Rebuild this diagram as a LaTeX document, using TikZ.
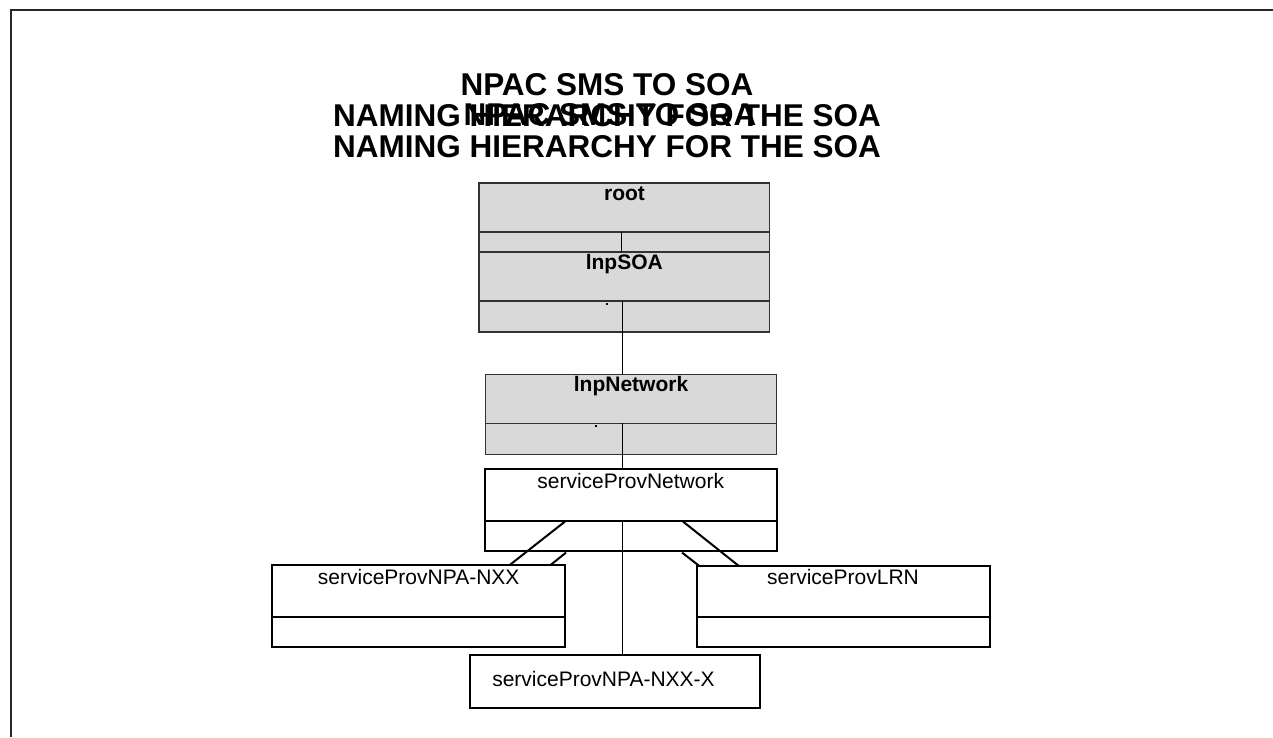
\documentclass[tikz,border=0pt]{standalone}
\usepackage{fontspec}
\setmainfont{Liberation Sans}
\definecolor{greyfill}{RGB}{217,217,217}
\definecolor{greyline}{RGB}{50,50,50}
\begin{document}
\begin{tikzpicture}[x=1pt,y=-1pt,
  greybox/.style={rectangle, draw=greyline, line width=1.3pt, fill=greyfill, inner sep=0pt, outer sep=0pt},
  whitebox/.style={rectangle, draw=black, line width=2pt, fill=white, inner sep=0pt, outer sep=0pt},
  lbl/.style={anchor=base, inner sep=0pt, font=\fontsize{21}{25}\selectfont},
  blbl/.style={anchor=base, inner sep=0pt, font=\fontsize{21}{25}\selectfont\bfseries},
  ttl/.style={anchor=base, inner sep=0pt, font=\fontsize{31.5}{36}\selectfont\bfseries},
  thinline/.style={line width=1pt, draw=black},
  thickline/.style={line width=2pt, draw=black, line cap=butt},
  framestyle/.style={line width=2pt, draw=black!85}
]
\useasboundingbox (0,0) rectangle (1273,737);
% frame
\coordinate (fb) at (11,737);
\coordinate (ftl) at (11,9.5);
\coordinate (fr) at (1273,9.5);
\draw[framestyle] (fb) -- (ftl) -- (fr);

% titles
\node[ttl] (t1) at (607,95) {NPAC SMS TO SOA};
\node[ttl] (t2) at (607,126) {NAMING HIERARCHY FOR THE SOA};
\node[ttl] (t3) at (610,125) {NPAC SMS TO SOA};
\node[ttl] (t4) at (607,157) {NAMING HIERARCHY FOR THE SOA};

% grey boxes
\node[greybox, minimum width=290.6pt, minimum height=49pt] (root) at (624.3,207.5) {};
\node[greybox, minimum width=290.6pt, minimum height=20pt] (rootattr) at (624.3,242) {};
\node[greybox, minimum width=290.6pt, minimum height=49pt] (lnpsoa) at (624.3,276.5) {};
\node[greybox, minimum width=290.6pt, minimum height=31pt] (lnpsoaattr) at (624.3,316.5) {};
\node[greybox, minimum width=290.7pt, minimum height=48.6pt] (lnpnet) at (631,399) {};
\node[greybox, minimum width=290.7pt, minimum height=31pt] (lnpnetattr) at (631,438.8) {};

% white boxes
\node[whitebox, minimum width=292.7pt, minimum height=51.4pt] (spn) at (631,495) {};
\node[whitebox, minimum width=292.7pt, minimum height=30.3pt] (spnattr) at (631,535.9) {};
\node[whitebox, minimum width=292.7pt, minimum height=51.4pt] (npa) at (418.2,591) {};
\node[whitebox, minimum width=292.7pt, minimum height=30.6pt] (npaattr) at (418.2,632) {};
\node[whitebox, minimum width=292.7pt, minimum height=50.7pt] (lrn) at (843.2,591.3) {};
\node[whitebox, minimum width=292.7pt, minimum height=30.6pt] (lrnattr) at (843.2,632) {};
\node[whitebox, minimum width=289.7pt, minimum height=52.4pt] (npax) at (615.2,681.5) {};

% labels
\node[blbl] (lroot) at (624.5,200) {root};
\node[blbl] (llnpsoa) at (624.3,269) {lnpSOA};
\node[blbl] (llnpnet) at (631,391.7) {lnpNetwork};
\node[lbl] (lspn) at (630.7,488) {serviceProvNetwork};
\node[lbl] (lnpa) at (418.7,584) {serviceProvNPA-NXX};
\node[lbl] (llrn) at (843,584) {serviceProvLRN};
\node[lbl] (lnpax) at (603.5,686) {serviceProvNPA-NXX-X};

% connectors
\coordinate (spine) at (622.3,0);
\coordinate (spine0) at (621.5,0);
\draw[thinline] (rootattr.north -| spine0) -- (rootattr.south -| spine0);
\draw[thinline] (lnpsoaattr.north -| spine) -- (lnpnet.north -| spine);
\draw[thinline] (lnpnetattr.north -| spine) -- (spn.north -| spine);
\draw[thinline] (spnattr.north -| spine) -- (npax.north -| spine);

\coordinate (dl1) at (566,0);
\coordinate (dl2) at (509.3,0);
\coordinate (dl3) at (550.2,0);
\coordinate (dr1) at (682,0);
\coordinate (dr2) at (738.8,0);
\coordinate (dr3) at (699.3,0);
\draw[thickline] (spnattr.north -| dl1) -- (npa.north -| dl2);
\draw[thickline] ([yshift=-1.5pt]spnattr.south -| dl1) -- (npa.north -| dl3);
\draw[thickline] (spnattr.north -| dr1) -- (lrn.north -| dr2);
\draw[thickline] ([yshift=-1.5pt]spnattr.south -| dr1) -- (lrn.north -| dr3);

% stray dots
\fill[black] (606.3,302.5) rectangle (607.8,304.5);
\fill[black] (595,425) rectangle (596.5,427);
\end{tikzpicture}
\end{document}
